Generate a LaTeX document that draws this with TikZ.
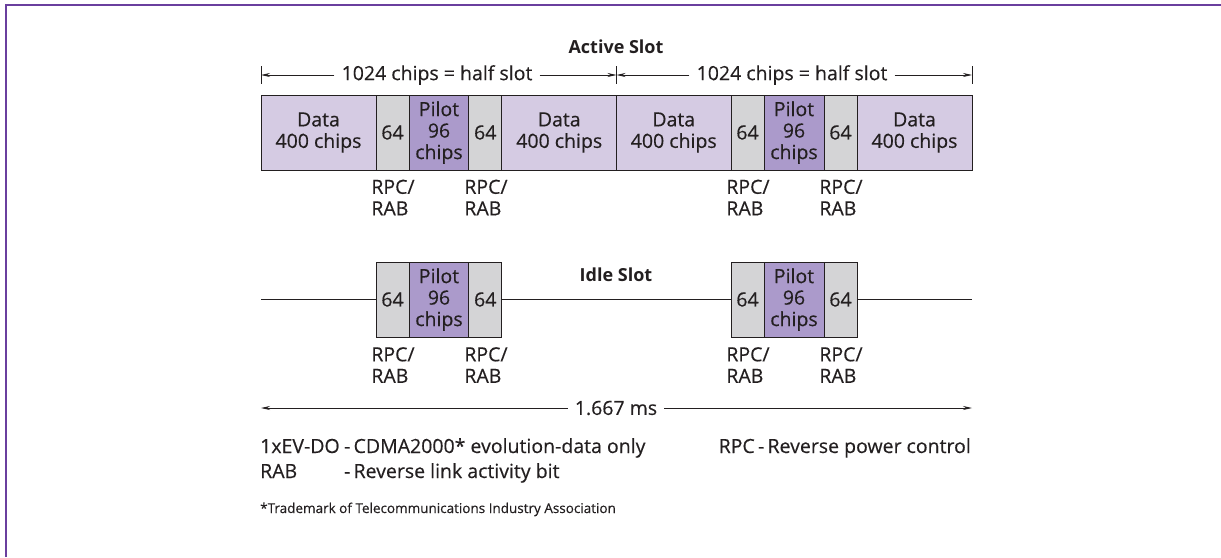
\documentclass[tikz,border=0pt]{standalone}
\usepackage{fontspec}
\setmainfont{Open Sans}[UprightFeatures={FakeBold=0.35}]
\usetikzlibrary{arrows.meta}
\definecolor{frame}{HTML}{6A3F9E}
\definecolor{datafill}{HTML}{D5CBE3}
\definecolor{pilotfill}{HTML}{AB9ACB}
\definecolor{grayfill}{HTML}{D4D4D6}
\definecolor{ink}{HTML}{231F20}
\begin{document}
\begin{tikzpicture}[x=1pt,y=-1pt,
  seg/.style={draw=ink, line width=1pt, inner sep=0pt, minimum height=75pt, text=ink, align=center, font=\fontsize{19.5}{21.5}\selectfont},
  datab/.style={seg, fill=datafill, minimum width=115pt},
  rpcb/.style={seg, fill=grayfill, minimum width=33pt},
  pilotb/.style={seg, fill=pilotfill, minimum width=60pt},
  lbl/.style={font=\fontsize{19.5}{21.5}\selectfont, text=ink, inner sep=0pt},
  rr/.style={lbl, align=left},
  ttl/.style={font=\bfseries\fontsize{18}{20}\selectfont, text=ink, inner sep=0pt},
  dimtxt/.style={lbl, inner xsep=7pt},
  dim/.style={draw=ink, line width=0.8pt, -{Stealth[length=9pt,width=4pt]}},
  small/.style={font=\fontsize{13.5}{16}\selectfont, text=ink, inner sep=0pt}
]
\useasboundingbox (0,0) rectangle (1221,557);
\draw[frame, line width=2.5pt] (6,557) -- (6,5) -- (1221,5);

% Active slot
\node[ttl] (act) at (616,47) {Active Slot};
\coordinate (tL) at (261,75);
\coordinate (tM) at (616.5,75);
\coordinate (tR) at (972,75);
\draw[ink, line width=0.8pt] (tL) ++(0,-9) -- ++(0,18);
\draw[ink, line width=0.8pt] (tM) ++(0,-9) -- ++(0,18);
\draw[ink, line width=0.8pt] (tR) ++(0,-9) -- ++(0,18);
\node[dimtxt] (d1) at (437,75) {1024 chips = half slot};
\node[dimtxt] (d2) at (792,75) {1024 chips = half slot};
\draw[dim] (d1.west) -- (tL);
\draw[dim] (d1.east) -- (tM);
\draw[dim] (d2.west) -- (tM);
\draw[dim] (d2.east) -- (tR);

\node[datab]  (a1) at (318.5,132.5) {Data\\400 chips};
\node[rpcb]   (a2) at (392.5,132.5) {64};
\node[pilotb] (a3) at (439,132.5) {Pilot\\96\\chips};
\node[rpcb]   (a4) at (485.25,132.5) {64};
\node[datab]  (a5) at (559.25,132.5) {Data\\400 chips};
\node[datab]  (a6) at (673.75,132.5) {Data\\400 chips};
\node[rpcb]   (a7) at (747.5,132.5) {64};
\node[pilotb] (a8) at (794,132.5) {Pilot\\96\\chips};
\node[rpcb]   (a9) at (840.5,132.5) {64};
\node[datab]  (a10) at (914.5,132.5) {Data\\400 chips};

\node[rr] (r1) at (393,197.5) {RPC/\\RAB};
\node[rr] (r2) at (486,197.5) {RPC/\\RAB};
\node[rr] (r3) at (748,197.5) {RPC/\\RAB};
\node[rr] (r4) at (841,197.5) {RPC/\\RAB};

% Idle slot
\node[ttl] (idl) at (616,275) {Idle Slot};
\coordinate (iL) at (261,299.5);
\coordinate (iR) at (972,299.5);
\node[rpcb]   (b1) at (392.5,299.5) {64};
\node[pilotb] (b2) at (439,299.5) {Pilot\\96\\chips};
\node[rpcb]   (b3) at (485.25,299.5) {64};
\node[rpcb]   (b4) at (747.5,299.5) {64};
\node[pilotb] (b5) at (794,299.5) {Pilot\\96\\chips};
\node[rpcb]   (b6) at (840.5,299.5) {64};
\draw[ink, line width=1pt] (iL) -- (b1.west);
\draw[ink, line width=1pt] (b3.east) -- (b4.west);
\draw[ink, line width=1pt] (b6.east) -- (iR);

\node[rr] (s1) at (393,365) {RPC/\\RAB};
\node[rr] (s2) at (486,365) {RPC/\\RAB};
\node[rr] (s3) at (748,365) {RPC/\\RAB};
\node[rr] (s4) at (841,365) {RPC/\\RAB};

% 1.667 ms
\coordinate (mL) at (261,408);
\coordinate (mR) at (972,408);
\node[dimtxt] (ms) at (616,408) {1.667 ms};
\draw[dim] (ms.west) -- (mL);
\draw[dim] (ms.east) -- (mR);

% legend
\node[lbl, anchor=base west] (l1a) at (260,453) {1xEV-DO};
\node[lbl, anchor=base west] (l1b) at ([xshift=4pt]l1a.base east) {-\,CDMA2000* evolution-data only};
\node[lbl, anchor=base east] (l1c) at (971,453) {RPC\,-\,Reverse power control};
\node[lbl, anchor=base west] (l2a) at (260,478) {RAB};
\node[lbl, anchor=base west] (l2b) at (l1b.base west |- l2a.base) {-\,Reverse link activity bit};
\node[small, anchor=base west] (tm) at (260,513) {*Trademark of Telecommunications Industry Association};
\end{tikzpicture}
\end{document}
